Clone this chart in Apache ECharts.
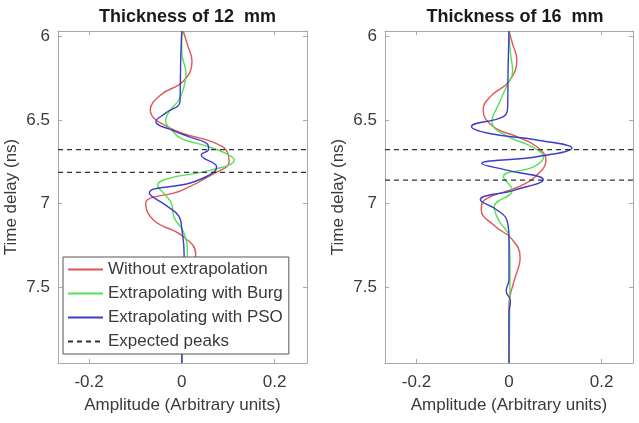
<!DOCTYPE html>
<html><head><meta charset="utf-8">
<script src="https://cdn.jsdelivr.net/npm/echarts@6.0.0/dist/echarts.min.js"></script>
<style>html,body{margin:0;padding:0;background:#fff}#c{width:639px;height:423px}</style>
</head><body><div id="c"></div>
<script>
const seriesNames = ['Without extrapolation', 'Extrapolating with Burg', 'Extrapolating with PSO', 'Expected peaks'];
const panelTitles = ['Thickness of 12  mm', 'Thickness of 16  mm'];
const yTicks = [6, 6.5, 7, 7.5];
const xTicks = [-0.2, 0, 0.2];

// 12 mm panel: time (ns) and amplitude
const t12Red = [5.97, 6.05, 6.15, 6.27, 6.35, 6.44, 6.55, 6.66, 6.75, 6.82, 6.92, 7.0, 7.1, 7.19, 7.3, 7.42, 7.55, 7.7, 7.95];
const a12Red = [0.003, 0.012, 0.022, 0.003, -0.045, -0.068, -0.024, 0.088, 0.102, 0.07, 0.0, -0.078, -0.06, 0.0, 0.03, 0.015, 0.003, 0.0, 0.0];
const t12Green = [5.97, 6.1, 6.22, 6.3, 6.38, 6.45, 6.51, 6.56, 6.61, 6.655, 6.7, 6.74, 6.8, 6.85, 6.89, 6.95, 7.0, 7.08, 7.17, 7.3, 7.5, 7.95];
const a12Green = [0.0, 0.0, 0.009, 0.005, -0.006, -0.027, -0.035, -0.022, -0.002, 0.052, 0.095, 0.113, 0.063, -0.03, -0.052, -0.035, -0.022, -0.017, 0.004, 0.012, 0.002, 0.0];
const t12Blue = [5.97, 6.1, 6.25, 6.39, 6.46, 6.51, 6.565, 6.6, 6.647, 6.675, 6.71, 6.78, 6.815, 6.875, 6.936, 7.016, 7.075, 7.15, 7.3, 7.5, 7.95];
const a12Blue = [0.0, -0.002, -0.003, -0.004, -0.035, -0.056, -0.017, 0.015, 0.056, 0.058, 0.042, 0.075, 0.068, 0.02, -0.07, -0.031, -0.006, 0.0, 0.005, 0.002, 0.0];
const peaks12 = [6.677, 6.813];

// 16 mm panel
const t16Red = [5.97, 6.05, 6.14, 6.27, 6.36, 6.44, 6.54, 6.6, 6.66, 6.74, 6.84, 6.9, 6.976, 7.036, 7.135, 7.21, 7.32, 7.47, 7.6, 7.95];
const a16Red = [0.0, 0.008, 0.017, 0.0, -0.04, -0.056, -0.034, 0.017, 0.06, 0.08, 0.056, 0.02, -0.052, -0.06, -0.03, 0.006, 0.024, 0.01, 0.0, 0.0];
const t16Green = [5.97, 6.1, 6.21, 6.3, 6.41, 6.51, 6.59, 6.66, 6.72, 6.78, 6.84, 6.92, 7.02, 7.1, 7.2, 7.35, 7.95];
const a16Green = [0.0, 0.003, 0.008, -0.005, -0.023, -0.037, -0.009, 0.049, 0.075, 0.053, -0.012, 0.007, -0.032, -0.022, 0.0, 0.002, 0.0];
const t16Blue = [5.97, 6.2, 6.43, 6.48, 6.54, 6.58, 6.62, 6.668, 6.72, 6.76, 6.8, 6.857, 6.92, 6.976, 7.036, 7.095, 7.2, 7.45, 7.52, 7.58, 7.65, 7.95];
const a16Blue = [0.0, -0.002, -0.003, -0.012, -0.081, -0.045, 0.06, 0.136, 0.06, -0.059, -0.005, 0.074, 0.01, -0.062, -0.027, -0.005, 0.0, 0.0, -0.006, 0.003, 0.0, 0.0];
const peaks16 = [6.677, 6.859];

const FONT = '"Liberation Sans", Arial, Helvetica, sans-serif';
const colors = ['#e05555', '#55e055', '#3d3dc8', '#333333'];
const X_MIN = [-0.267, -0.268], X_MAX = [0.27, 0.268];
const Y_MIN = 5.97, Y_MAX = 7.95;
const frameColor = '#a8a8a8';
const textColor = '#3a3a3a';

const grids = [
  {left: 58, top: 31, width: 249, height: 332},
  {left: 385, top: 31, width: 248, height: 332}
];

function pairs(t, a) { return t.map((v, i) => [a[i], v]); }

const xAxes = [], yAxes = [];
[0, 1].forEach(g => {
  xAxes.push({
    type: 'value', gridIndex: g, position: 'bottom', min: X_MIN[g], max: X_MAX[g],
    name: 'Amplitude (Arbitrary units)', nameLocation: 'middle', nameGap: 34,
    nameTextStyle: {fontFamily: FONT, fontSize: 17, color: textColor},
    axisLine: {show: true, onZero: false, lineStyle: {color: frameColor}},
    axisTick: {show: true, inside: true, length: 4, customValues: xTicks, lineStyle: {color: frameColor}},
    axisLabel: {show: true, customValues: xTicks, margin: 11, fontFamily: FONT, fontSize: 17, color: textColor},
    splitLine: {show: false}
  });
  xAxes.push({
    type: 'value', gridIndex: g, position: 'top', min: X_MIN[g], max: X_MAX[g],
    axisLine: {show: true, onZero: false, lineStyle: {color: frameColor}},
    axisTick: {show: true, inside: true, length: 4, customValues: xTicks, lineStyle: {color: frameColor}},
    axisLabel: {show: false}, splitLine: {show: false}
  });
  yAxes.push({
    type: 'value', gridIndex: g, position: 'left', inverse: true, min: Y_MIN, max: Y_MAX,
    name: 'Time delay (ns)', nameLocation: 'middle', nameGap: 38, nameRotate: 90,
    nameTextStyle: {fontFamily: FONT, fontSize: 17, color: textColor},
    axisLine: {show: true, onZero: false, lineStyle: {color: frameColor}},
    axisTick: {show: true, inside: true, length: 4, customValues: yTicks, lineStyle: {color: frameColor}},
    axisLabel: {show: true, customValues: yTicks, margin: 8, fontFamily: FONT, fontSize: 17, color: textColor},
    splitLine: {show: false}
  });
  yAxes.push({
    type: 'value', gridIndex: g, position: 'right', inverse: true, min: Y_MIN, max: Y_MAX,
    axisLine: {show: true, onZero: false, lineStyle: {color: frameColor}},
    axisTick: {show: true, inside: true, length: 4, customValues: yTicks, lineStyle: {color: frameColor}},
    axisLabel: {show: false}, splitLine: {show: false}
  });
});

function curve(name, g, t, a, color) {
  return {
    name, type: 'line', xAxisIndex: g * 2, yAxisIndex: g * 2, data: pairs(t, a),
    symbol: 'none', smooth: 0.45, lineStyle: {color, width: 1.4}, itemStyle: {color},
    silent: true, animation: false, z: 2
  };
}
function dashed(g, time) {
  const color = colors[3];
  return {
    name: seriesNames[3], type: 'line', xAxisIndex: g * 2, yAxisIndex: g * 2,
    data: [[X_MIN[g], time], [X_MAX[g], time]], symbol: 'none',
    lineStyle: {color, width: 1.3, type: [5, 4]}, itemStyle: {color},
    silent: true, animation: false, z: 3
  };
}

const series = [
  curve(seriesNames[0], 0, t12Red, a12Red, colors[0]),
  curve(seriesNames[1], 0, t12Green, a12Green, colors[1]),
  curve(seriesNames[2], 0, t12Blue, a12Blue, colors[2]),
  curve(seriesNames[0], 1, t16Red, a16Red, colors[0]),
  curve(seriesNames[1], 1, t16Green, a16Green, colors[1]),
  curve(seriesNames[2], 1, t16Blue, a16Blue, colors[2])
];
peaks12.forEach(t => series.push(dashed(0, t)));
peaks16.forEach(t => series.push(dashed(1, t)));

const option = {
  backgroundColor: '#ffffff',
  animation: false,
  title: [
    {text: panelTitles[0], left: 182.5, top: 3, textAlign: 'center',
     textStyle: {fontFamily: FONT, fontSize: 18, fontWeight: 'bold', color: '#1a1a1a'}},
    {text: panelTitles[1], left: 510, top: 3, textAlign: 'center',
     textStyle: {fontFamily: FONT, fontSize: 18, fontWeight: 'bold', color: '#1a1a1a'}}
  ],
  grid: grids,
  xAxis: xAxes,
  yAxis: yAxes,
  legend: {
    data: seriesNames, orient: 'vertical', left: 63, top: 257,
    backgroundColor: '#ffffff', borderColor: '#555', borderWidth: 1,
    padding: [4, 6, 4, 4], itemGap: 7, itemWidth: 35, itemHeight: 14,
    itemStyle: {opacity: 0, borderWidth: 0},
    textStyle: {fontFamily: FONT, fontSize: 17, color: textColor},
    selectedMode: false, z: 10
  },
  series
};
const chart = echarts.init(document.getElementById('c'), null, {renderer: 'canvas'});
chart.setOption(option);
</script>
</body></html>
